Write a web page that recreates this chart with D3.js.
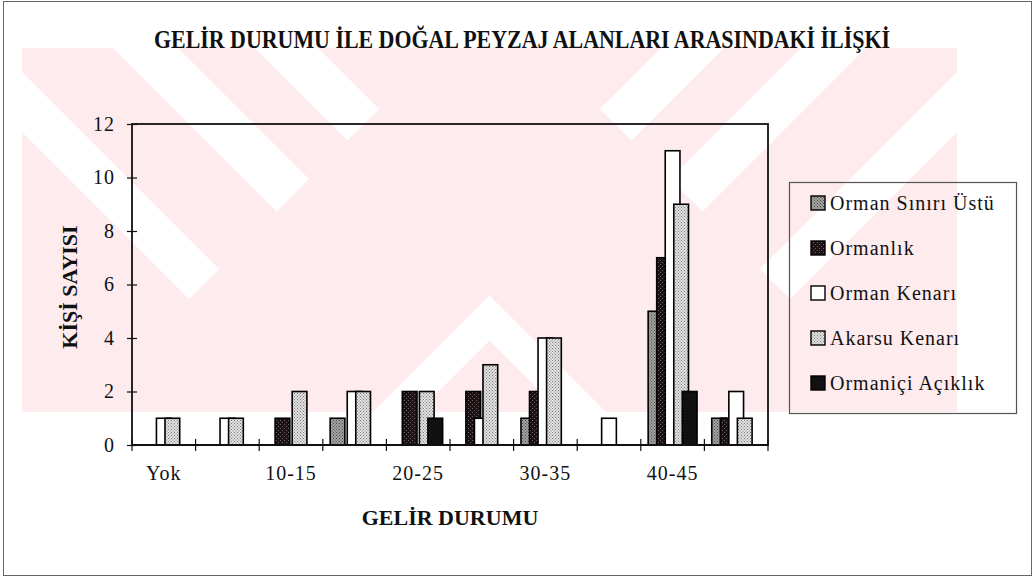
<!DOCTYPE html>
<html>
<head>
<meta charset="utf-8">
<script src="https://cdn.jsdelivr.net/npm/d3@7"></script>
<style>
    html, body { margin: 0; padding: 0; background: #fff; }
    svg { display: block; }
    svg text { font-family: "Liberation Serif", "Times New Roman", serif; fill: #111; }
</style>
</head>
<body>
<div id="chart"></div>
<script>
/**
 * Income groups (x axis). Only every other one carries a label.
 * @type Array
 */
var CATEGORIES = ['Yok', '0-10', '10-15', '15-20', '20-25', '25-30', '30-35', '35-40', '40-45', '45+'];
var TICK_LABELS = ['Yok', '10-15', '20-25', '30-35', '40-45'];
var Y_TICKS = [0, 2, 4, 6, 8, 10, 12];

/**
 * Series names, in drawing order (later ones lie on top).
 * @type Array
 */
var SERIES = ['Orman Sınırı Üstü', 'Ormanlık', 'Orman Kenarı', 'Akarsu Kenarı', 'Ormaniçi Açıklık'];

// Number of persons per income group.
var ORMAN_SINIRI_USTU = [0, 0, 0, 1, 0, 0, 1, 0, 5, 1];
var ORMANLIK          = [0, 0, 1, 0, 2, 2, 2, 0, 7, 1];
var ORMAN_KENARI      = [1, 1, 0, 2, 0, 1, 4, 1, 11, 2];
var AKARSU_KENARI     = [1, 1, 2, 2, 2, 3, 4, 0, 9, 1];
var ORMANICI_ACIKLIK  = [0, 0, 0, 0, 1, 0, 0, 0, 2, 0];

var VALUES = [ORMAN_SINIRI_USTU, ORMANLIK, ORMAN_KENARI, AKARSU_KENARI, ORMANICI_ACIKLIK];

var TITLE = 'GELİR DURUMU İLE DOĞAL PEYZAJ ALANLARI ARASINDAKİ İLİŞKİ';
var X_TITLE = 'GELİR DURUMU';
var Y_TITLE = 'KİŞİ SAYISI';

var WIDTH = 1034, HEIGHT = 578;
var PLOT = { left: 132, right: 768, top: 124, bottom: 445 };
var PINK = '#fdebee';
var FONT = '"Liberation Serif", "Times New Roman", serif';

var svg = d3.select('#chart').append('svg')
    .attr('width', WIDTH)
    .attr('height', HEIGHT);

var defs = svg.append('defs');

/**
 * Small dotted fill pattern, like the old printer hatches.
 */
function dotPattern(id, bg, dot, size) {
    var p = defs.append('pattern')
        .attr('id', id)
        .attr('patternUnits', 'userSpaceOnUse')
        .attr('width', size)
        .attr('height', size);
    p.append('rect').attr('width', size).attr('height', size).attr('fill', bg);
    p.append('rect').attr('x', 0).attr('y', 0).attr('width', 1).attr('height', 1).attr('fill', dot);
    p.append('rect').attr('x', size / 2).attr('y', size / 2).attr('width', 1).attr('height', 1).attr('fill', dot);
    return 'url(#' + id + ')';
}

var FILLS = [
    dotPattern('p-osu', '#a4a4a4', '#4a4a4a', 3),
    dotPattern('p-orm', '#1c1214', '#6e6264', 4),
    '#ffffff',
    dotPattern('p-aka', '#e2e2e2', '#7a7a7a', 3),
    '#121010'
];

// ---- background watermark (pale stripes), left half mirrored to the right
defs.append('clipPath').attr('id', 'wm-clip')
    .append('rect').attr('x', 22).attr('y', 48).attr('width', 468).attr('height', 364);

function drawWatermarkHalf(g) {
    g.append('rect').attr('x', 22).attr('y', 48).attr('width', 468).attr('height', 364).attr('fill', PINK);
    var cut = 488;
    [[-110, -50], [65, 130], [207, 270]].forEach(function(c) {
        var pts = [[48 + c[0], 48], [48 + c[1], 48],
                   [(cut + c[1]) / 2, (cut - c[1]) / 2],
                   [(cut + c[0]) / 2, (cut - c[0]) / 2]];
        g.append('polygon').attr('points', pts.join(' ')).attr('fill', '#fff');
    });
    var s = [785, 830];
    g.append('polygon')
        .attr('points', [[s[0] - 48, 48], [s[1] - 48, 48], [s[1] - 412, 412], [s[0] - 412, 412]].join(' '))
        .attr('fill', '#fff');
}
drawWatermarkHalf(svg.append('g').attr('clip-path', 'url(#wm-clip)'));
drawWatermarkHalf(svg.append('g').attr('transform', 'translate(979,0) scale(-1,1)')
    .append('g').attr('clip-path', 'url(#wm-clip)'));

// ---- outer border
svg.append('rect')
    .attr('x', 3.5).attr('y', 1.5)
    .attr('width', WIDTH - 6).attr('height', HEIGHT - 4)
    .attr('fill', 'none').attr('stroke', '#666').attr('stroke-width', 1);

// ---- scales
var x = d3.scaleBand()
    .domain(CATEGORIES)
    .range([PLOT.left, PLOT.right])
    .padding(0);

var y = d3.scaleLinear()
    .domain([0, 12])
    .range([PLOT.bottom, PLOT.top]);

// Excel style clustered bars: gap width 100 %, overlap 42 %
var n = SERIES.length, overlap = 0.42, gap = 1.0;
var barW = x.bandwidth() / (n - (n - 1) * overlap + gap);
var barStep = barW * (1 - overlap);
var groupPad = (x.bandwidth() - ((n - 1) * barStep + barW)) / 2;

// ---- plot frame
svg.append('rect')
    .attr('x', PLOT.left).attr('y', PLOT.top)
    .attr('width', PLOT.right - PLOT.left).attr('height', PLOT.bottom - PLOT.top)
    .attr('fill', 'none').attr('stroke', '#111').attr('stroke-width', 1.8);

// ---- bars
SERIES.forEach(function(name, si) {
    svg.append('g').attr('class', 'series')
        .selectAll('rect')
        .data(VALUES[si].map(function(v, i) { return { cat: CATEGORIES[i], value: v }; })
            .filter(function(d) { return d.value > 0; }))
        .enter().append('rect')
        .attr('x', function(d) { return x(d.cat) + groupPad + si * barStep; })
        .attr('y', function(d) { return y(d.value); })
        .attr('width', barW)
        .attr('height', function(d) { return y(0) - y(d.value); })
        .attr('fill', FILLS[si])
        .attr('stroke', '#000')
        .attr('stroke-width', 1.6);
});

// ---- y axis
var yAxis = svg.append('g')
    .attr('transform', 'translate(' + PLOT.left + ',0)')
    .call(d3.axisLeft(y).tickValues(Y_TICKS).tickSize(5).tickPadding(12));
yAxis.attr('font-family', null).attr('font-size', null);
yAxis.select('.domain').remove();
yAxis.selectAll('.tick line').attr('x1', 5).attr('stroke', '#111').attr('stroke-width', 1.2);
yAxis.selectAll('.tick text')
    .style('font-family', FONT).style('font-size', '20px').style('letter-spacing', '1px')
    .attr('fill', '#111');

// ---- x axis: ticks on category boundaries, labels on every other group
var xAxis = svg.append('g').attr('class', 'x-axis');
xAxis.append('line')
    .attr('x1', PLOT.left).attr('x2', PLOT.right)
    .attr('y1', y(0)).attr('y2', y(0))
    .attr('stroke', '#111').attr('stroke-width', 2);
xAxis.selectAll('line.tick')
    .data(CATEGORIES.concat(['end']))
    .enter().append('line')
    .attr('class', 'tick')
    .attr('x1', function(d, i) { return PLOT.left + i * x.step(); })
    .attr('x2', function(d, i) { return PLOT.left + i * x.step(); })
    .attr('y1', y(0) - 6).attr('y2', y(0) + 6)
    .attr('stroke', '#111').attr('stroke-width', 1.2);
xAxis.selectAll('text')
    .data(CATEGORIES.filter(function(c) { return TICK_LABELS.indexOf(c) >= 0; }))
    .enter().append('text')
    .attr('x', function(d) { return x(d) + x.bandwidth() / 2; })
    .attr('y', 480)
    .attr('text-anchor', 'middle')
    .style('font-size', '20px').style('letter-spacing', '1px')
    .text(function(d) { return d; });

// ---- titles
svg.append('text')
    .attr('x', 522).attr('y', 48)
    .attr('text-anchor', 'middle')
    .style('font-weight', 'bold').style('font-size', '25px')
    .attr('textLength', 736).attr('lengthAdjust', 'spacingAndGlyphs')
    .text(TITLE);

svg.append('text')
    .attr('x', (PLOT.left + PLOT.right) / 2).attr('y', 525)
    .attr('text-anchor', 'middle')
    .style('font-weight', 'bold').style('font-size', '22px')
    .text(X_TITLE);

svg.append('text')
    .attr('transform', 'translate(77,287) rotate(-90)')
    .attr('text-anchor', 'middle')
    .style('font-weight', 'bold').style('font-size', '22px')
    .text(Y_TITLE);

// ---- legend
var legend = svg.append('g').attr('class', 'legend');
legend.append('rect')
    .attr('x', 789.5).attr('y', 182.5).attr('width', 227).attr('height', 231)
    .attr('fill', 'none').attr('stroke', '#555').attr('stroke-width', 1.2);

var legendY = d3.scalePoint().domain(SERIES).range([203, 383]);
var item = legend.selectAll('g.item')
    .data(SERIES)
    .enter().append('g')
    .attr('class', 'item')
    .attr('transform', function(d) { return 'translate(811,' + legendY(d) + ')'; });
item.append('rect')
    .attr('x', 0).attr('y', -7).attr('width', 14).attr('height', 14)
    .attr('fill', function(d, i) { return FILLS[i]; })
    .attr('stroke', '#000').attr('stroke-width', 1.4);
item.append('text')
    .attr('x', 19).attr('y', 0).attr('dy', '0.35em')
    .style('font-size', '20px').style('letter-spacing', '1px')
    .text(function(d) { return d; });
</script>
</body>
</html>
